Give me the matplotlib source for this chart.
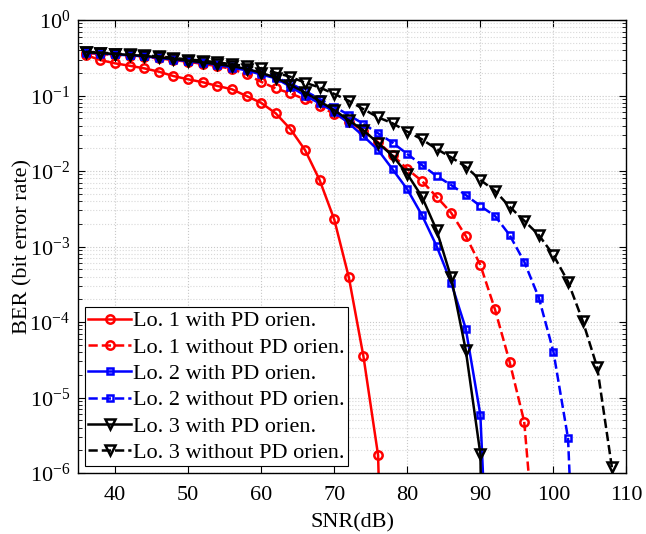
import numpy as np
import matplotlib
matplotlib.use("Agg")
import matplotlib.pyplot as plt
from matplotlib.ticker import LogLocator, NullFormatter

plt.rcParams['font.family'] = ['Liberation Serif', 'DejaVu Serif']
plt.rcParams['mathtext.fontset'] = 'stix'

# SNR values (dB), one marker every 2 dB
snr_lo1_with = np.arange(36, 79, 2)
ber_lo1_with = [0.344, 0.295, 0.267, 0.248, 0.229, 0.207, 0.181, 0.164, 0.150,
                0.134, 0.121, 0.0985, 0.080, 0.058, 0.036, 0.019, 0.0076,
                0.00229, 3.9e-4, 3.5e-5, 1.73e-6, 2.5e-13]

snr_lo1_without = np.arange(36, 99, 2)
ber_lo1_without = [0.365, 0.355, 0.345, 0.335, 0.325, 0.31, 0.295, 0.28, 0.262,
                   0.245, 0.225, 0.19, 0.152, 0.124, 0.107, 0.089, 0.0726,
                   0.057, 0.045, 0.034, 0.024, 0.0163, 0.0106, 0.00738,
                   0.00457, 0.0028, 0.00138, 5.7e-4, 1.47e-4, 2.98e-5,
                   4.8e-6, 2.5e-8]

snr_lo2_with = np.arange(36, 93, 2)
ber_lo2_with = [0.37, 0.36, 0.35, 0.34, 0.33, 0.315, 0.30, 0.285, 0.27, 0.255,
                0.235, 0.215, 0.19, 0.169, 0.131, 0.10, 0.0788, 0.061, 0.0428,
                0.029, 0.019, 0.0105, 0.00572, 0.00261, 0.00102, 3.32e-4,
                8.2e-5, 5.9e-6, 2.5e-10]

snr_lo2_without = np.arange(36, 105, 2)
ber_lo2_without = [0.375, 0.365, 0.355, 0.345, 0.335, 0.32, 0.305, 0.29, 0.275,
                   0.26, 0.245, 0.225, 0.205, 0.175, 0.145, 0.115, 0.09,
                   0.071, 0.0552, 0.042, 0.0316, 0.0237, 0.0168, 0.012,
                   0.0086, 0.00653, 0.00481, 0.00344, 0.00254, 0.00142,
                   6.3e-4, 2.1e-4, 4.04e-5, 2.88e-6, 8e-11]

snr_lo3_with = np.arange(36, 93, 2)
ber_lo3_with = [0.375, 0.365, 0.355, 0.345, 0.335, 0.32, 0.305, 0.29, 0.275,
                0.26, 0.245, 0.225, 0.20, 0.172, 0.138, 0.11, 0.084, 0.064,
                0.047, 0.0345, 0.0235, 0.0159, 0.00912, 0.00457, 0.00166,
                3.9e-4, 4.26e-5, 1.79e-6, 1e-16]

snr_lo3_without = np.arange(36, 111, 2)
ber_lo3_without = [0.38, 0.37, 0.36, 0.35, 0.34, 0.33, 0.315, 0.30, 0.29,
                   0.275, 0.26, 0.245, 0.229, 0.20, 0.177, 0.148, 0.128,
                   0.105, 0.085, 0.066, 0.0514, 0.0428, 0.0332, 0.0263,
                   0.0196, 0.0152, 0.0114, 0.0076, 0.00548, 0.00337, 0.0022,
                   0.00142, 7.7e-4, 3.42e-4, 1.04e-4, 2.5e-5, 1.19e-6, 1e-9]

fig = plt.figure(figsize=(6.46, 5.34), dpi=100)
ax = fig.add_axes([0.1215, 0.1142, 0.8483, 0.8483])

lw = 1.8
mew = 1.8
ax.plot(snr_lo1_with, ber_lo1_with, '-', color='red', marker='o', lw=lw, ms=6,
        mfc='none', mew=mew, label='Lo. 1 with PD orien.')
ax.plot(snr_lo1_without, ber_lo1_without, '--', color='red', marker='o', lw=lw, ms=6,
        mfc='none', mew=mew, label='Lo. 1 without PD orien.')
ax.plot(snr_lo2_with, ber_lo2_with, '-', color='blue', marker='s', lw=lw, ms=5,
        mfc='none', mew=mew, label='Lo. 2 with PD orien.')
ax.plot(snr_lo2_without, ber_lo2_without, '--', color='blue', marker='s', lw=lw, ms=5,
        mfc='none', mew=mew, label='Lo. 2 without PD orien.')
ax.plot(snr_lo3_with, ber_lo3_with, '-', color='black', marker='v', lw=lw, ms=7,
        mfc='none', mew=mew, label='Lo. 3 with PD orien.')
ax.plot(snr_lo3_without, ber_lo3_without, '--', color='black', marker='v', lw=lw, ms=7,
        mfc='none', mew=mew, label='Lo. 3 without PD orien.')

ax.set_yscale('log')
ax.set_xlim(35, 110)
ax.set_ylim(1e-6, 1)
ax.set_xticks(np.arange(40, 111, 10))
ax.yaxis.set_major_locator(LogLocator(base=10, numticks=10))
ax.yaxis.set_minor_locator(LogLocator(base=10, subs=np.arange(2, 10), numticks=10))
ax.yaxis.set_minor_formatter(NullFormatter())

ax.grid(True, which='major', linestyle=':', color='#c8c8c8', lw=0.8)
ax.grid(True, which='minor', axis='y', linestyle=':', color='#d8d8d8', lw=0.8)
ax.tick_params(which='both', direction='in', top=True, right=True, labelsize=16)
ax.tick_params(axis='x', which='major', pad=9)
ax.tick_params(axis='y', which='major', pad=6)
ax.tick_params(which='major', length=5)
ax.tick_params(which='minor', length=3)
for s in ax.spines.values():
    s.set_linewidth(1.0)

ax.set_xlabel('SNR(dB)', fontsize=16, labelpad=6)
ax.set_ylabel('BER (bit error rate)', fontsize=16, labelpad=-2)

leg = ax.legend(loc='lower left', fontsize=16, frameon=True, fancybox=False,
                edgecolor='black', framealpha=1, handlelength=1.9,
                handletextpad=0.1, labelspacing=0.26, borderpad=0.15,
                borderaxespad=0.3)
leg.get_frame().set_linewidth(0.8)

fig.savefig('out.png', dpi=100)
